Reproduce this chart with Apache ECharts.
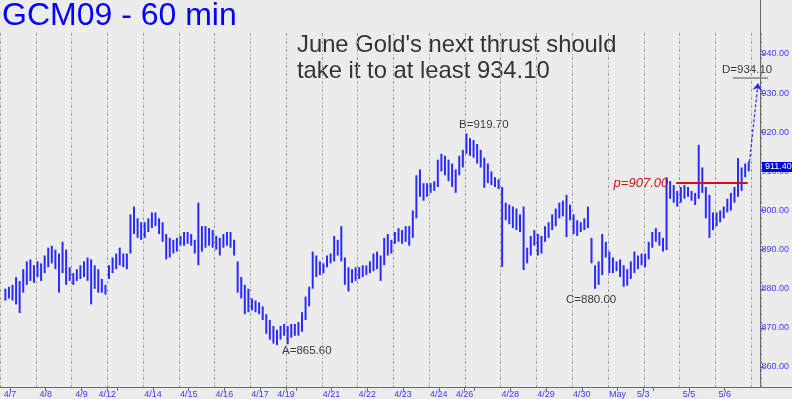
<!DOCTYPE html>
<html><head><meta charset="utf-8">
<script src="https://cdn.jsdelivr.net/npm/echarts@6/dist/echarts.min.js"></script>
<style>html,body{margin:0;padding:0;background:#ececec;}#c{width:792px;height:399px;}</style>
</head><body><div id="c"></div>
<script>
// 60-minute bars, 10 per session (first session partial: 9 bars)
const hi = [
  880,880.5,881,883,882,885,887,887.5,886,
  887,886.5,888.5,890.5,891,890,889,892,890,885.5,
  884,885,886,887,888,887.5,886,885,882.5,881,
  886,888,889,890.5,889,889,899,901,898,897,
  897,898,899.5,899.5,898,897,894,893,892.5,893,
  893.5,894.5,894.5,894,892.5,902,896,896,895.5,895,
  893.5,893,894,894.5,894.5,892.5,887,883,881,880,
  877.5,877,876.5,875.5,873.5,872,870.5,869.5,870.5,871,
  870.5,871,871,871.5,874,878,880.5,889.5,888.5,887,
  886.5,888.5,889,893.5,892.5,896,888,885.5,885,885.5,
  885.5,886,886,887,889,889.5,888.5,893,894,892.5,
  894.5,895.5,895,896,896,900,909,910.5,907,907,
  907,907.5,913,914.5,914,913,912,910.5,914,915.5,
  919.7,918.5,918,917,915.5,913.5,912,910,908.5,908,
  906,902,901.5,901,900.5,899,901,890.5,893.5,895,
  894,893.5,896,897,899,900.5,902,902.5,904,901.5,
  899,897.5,897,898,901,893,886,887,894,892,
  889.5,888,887,887.5,886,885,887,889.5,888.5,889,
  889,892,894.5,895.5,894.5,893,908.5,907.5,906.5,905,
  906,906.5,906,905,904.5,916.8,911,906,904,899.5,
  899.5,900,901,903,904.5,906,913.4,911,912,912.5
];
const lo = [
  877,877.5,877,876,873.8,879,881,882,881.5,
  883,882,884,885.5,886.5,885,879,884,881,882,
  881,882,882.5,883,882,876,880,879,879,878.5,
  882.5,884,885,886,885.5,885,889,894,893,892.5,
  893,894.5,895.5,896,894,892,887.5,888,889,889.5,
  891,891,891.5,891,889,886,889.5,890.5,891,890.5,
  890,888.5,890.5,891,890.5,888.5,879,877.5,873.5,874,
  874.5,874,873.5,872,868.5,867,866,865.6,867,868,
  865.8,867.5,868,868,869,872,875.5,880,883,883.5,
  884,885.5,886.5,887,888.5,887,881,879.3,881.5,882,
  882.5,883,883.5,884,884.5,885,882,886,888.5,889,
  891.5,892,891.5,892,891,893,898,903.5,902.5,903.5,
  904.5,905,906,910,909,907.5,906,904.5,909,911,
  914.5,914,913.5,912,911,905.8,907,906.5,906,905.5,
  885.6,897.5,896.5,895.5,895,894.5,884.8,886.5,888.5,891,
  888.5,889,892,893,895,896,898,898.5,893.2,897.5,
  894,893.5,894.5,895,895.5,886.5,880,881,883.5,888,
  884,884,884.5,883,880.5,880.8,882.5,884,885,886,
  885.5,887.5,890.5,892,891,889.5,889.9,903,902,901,
  902,903,903.5,902.5,901.4,903,904.5,898,893,895,
  896,897,898,899.5,900,902,903.5,905,908.5,910
];
const tickLabels = ['4/7','4/8','4/9','4/12','4/14','4/15','4/16','4/17','4/19','4/21','4/22','4/23','4/24','4/26','4/28','4/29','4/30','May','5/3','5/5','5/6'];
const tickDay = [-1,0,1,2,3,4,5,6,7,8,9,10,11,12,13,14,15,16,17,18,19];
const sundayLabel = ['4/12','4/19','4/26','5/3'];
const priceTicks = [860,870,880,890,900,910,920,930,940];
const lastPrice = 911.40;
const pivot = 907.00;
const target = 934.10;
const projectionEnd = 932.6;

const BARS_PER_DAY = 10, FIRST_OFFSET = 8.5, LABEL_SHIFT = 2.78;
const labelPos = tickLabels.map((t,i)=> tickDay[i]*BARS_PER_DAY + (sundayLabel.includes(t) ? 0 : LABEL_SHIFT));
const tickPos = [];
for (let d=-1; d<=19; d++) tickPos.push(d*BARS_PER_DAY + LABEL_SHIFT);
sundayLabel.forEach(t=>tickPos.push(labelPos[tickLabels.indexOf(t)]));
tickPos.sort((a,b)=>a-b);

const barData = hi.map((h,i)=>[i-FIRST_OFFSET, lo[i], h]);
const lastX = hi.length-1-FIRST_OFFSET;
const BLUE = '#2a2aff';
const sans = "'Liberation Sans',Arial,sans-serif";

const chart = echarts.init(document.getElementById('c'), null, {renderer:'canvas'});
chart.setOption({
  animation:false,
  backgroundColor:'#ececec',
  grid:[
    {left:-5, right:31, top:0, bottom:12},
    {left:-5, right:31, top:33, bottom:12}
  ],
  xAxis:[
    {type:'value', gridIndex:0, min:-10, max:202.78,
     axisLine:{show:true, onZero:false, lineStyle:{color:'#6a6a6a', width:1}},
     axisTick:{show:true, length:4, customValues:tickPos, lineStyle:{color:'#6a6a6a'}},
     axisLabel:{show:true, customValues:labelPos, margin:3, color:'#3b3bff', fontSize:9, fontFamily:sans,
       formatter:v=>{const k=labelPos.findIndex(p=>Math.abs(p-v)<0.01); return k>=0?tickLabels[k]:'';}},
     splitLine:{show:false}},
    {type:'value', gridIndex:1, min:-10, max:202.78, interval:10,
     axisLine:{show:false}, axisTick:{show:false}, axisLabel:{show:false},
     splitLine:{show:true, lineStyle:{color:'#9a9a9a', width:1, type:[3,2,1,2]}}}
  ],
  yAxis:[
    {type:'value', gridIndex:0, position:'right', min:854.89, max:953.80,
     axisLine:{show:true, onZero:false, lineStyle:{color:'#6a6a6a'}},
     axisTick:{show:true, length:4, customValues:priceTicks, lineStyle:{color:'#6a6a6a'}},
     axisLabel:{show:true, customValues:priceTicks, margin:1, color:'#3b3bff', fontSize:9, fontFamily:sans,
       formatter:v=>v.toFixed(2)},
     splitLine:{show:false}},
    {type:'value', gridIndex:1, min:0, max:1, show:false, axisLine:{onZero:false}}
  ],
  series:[
    {type:'custom', name:'GCM09', xAxisIndex:0, yAxisIndex:0, data:barData, encode:{x:0, y:[1,2]},
     clip:false,
     renderItem:(params, api)=>{
       const x=api.value(0), l=api.value(1), h=api.value(2);
       const a=api.coord([x,h]), b=api.coord([x,l]);
       return {type:'rect', shape:{x:a[0]-1, y:a[1], width:2, height:Math.max(1,b[1]-a[1])}, style:{fill:BLUE}};
     },
     markLine:{silent:true, animation:false, symbol:['none','none'],
       data:[
         [{coord:[179.2, pivot], lineStyle:{color:'#d01010', width:2, type:'solid'},
           label:{show:true, position:'start', distance:8, formatter:'p=' + pivot.toFixed(2), color:'#d01010', fontSize:13, fontStyle:'italic', fontFamily:sans}},
          {coord:[199.2, pivot]}],
         [{coord:[lastX+0.2, 912.4], lineStyle:{color:BLUE, width:1.2, type:[3,2]}, label:{show:false}, symbol:'none'},
          {coord:[lastX+2.6, projectionEnd], symbol:'arrow', symbolSize:7}]
       ]}
    }
  ],
  graphic:[
    {type:'text', left:2, top:0, style:{text:'GCM09 - 60 min', fill:'#0000ff', font:"32px " + sans}},
    {type:'text', left:297, top:32, style:{text:"June Gold's next thrust should\ntake it to at least 934.10", fill:'#333333', font:"23.8px " + sans, lineHeight:26}},
    {type:'text', left:282, top:345, style:{text:'A=865.60', fill:'#3a3a3a', font:"11.5px " + sans}},
    {type:'text', left:459, top:119, style:{text:'B=919.70', fill:'#3a3a3a', font:"11.5px " + sans}},
    {type:'text', left:566, top:294, style:{text:'C=880.00', fill:'#3a3a3a', font:"11.5px " + sans}},
    {type:'text', left:722, top:64, style:{text:'D=' + target.toFixed(2), fill:'#3a3a3a', font:"11.5px " + sans}},
    {type:'line', shape:{x1:733, y1:78, x2:768, y2:78}, style:{stroke:'#555', lineWidth:1}},
    {type:'line', shape:{x1:761, y1:387.5, x2:792, y2:387.5}, style:{stroke:'#6a6a6a', lineWidth:1}},
    {type:'rect', shape:{x:762, y:162, width:30, height:10}, style:{fill:'#0000ee'}, z:100},
    {type:'text', left:765, top:162.5, z:101, style:{text:lastPrice.toFixed(2), fill:'#ffffff', font:"9px " + sans}}
  ]
});
</script></body></html>
